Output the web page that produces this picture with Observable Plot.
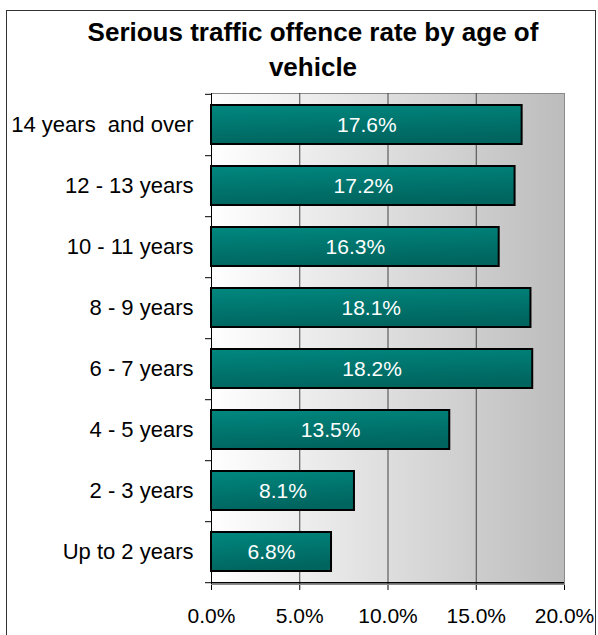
<!DOCTYPE html>
<html>
<head>
<meta charset="utf-8">
<script src="https://cdn.jsdelivr.net/npm/d3@7"></script>
<script src="https://cdn.jsdelivr.net/npm/@observablehq/plot@0.6"></script>
<style>
  html, body { margin: 0; padding: 0; background: #fff; overflow: hidden; width: 598px; height: 635px; }
  body { position: relative; font-family: Arial, "Liberation Sans", sans-serif; }
  #border { position: absolute; left: 6px; top: 10px; width: 590px; height: 700px; border: 1px solid #333; box-sizing: border-box; pointer-events: none; }
  #title { box-sizing: border-box; width: 598px; padding-left: 28px; margin-top: 15px; height: 70px; text-align: center; font-weight: bold; font-size: 26px; line-height: 35px; color: #000; }
  #chart svg { display: block; }
</style>
</head>
<body>
<div id="border"></div>
<div id="title">Serious traffic offence rate by age of<br>vehicle</div>
<div id="chart"></div>
<script>
const categories = ["14 years \u00a0and over", "12 - 13 years", "10 - 11 years", "8 - 9 years", "6 - 7 years", "4 - 5 years", "2 - 3 years", "Up to 2 years"];
const rates = [0.176, 0.172, 0.163, 0.181, 0.182, 0.135, 0.081, 0.068];
const xTicks = [0, 0.05, 0.10, 0.15, 0.20];
const gridValues = [0.05, 0.10, 0.15];

const data = categories.map((c, i) => ({category: c, rate: rates[i]}));

const W = 598, H = 550, mt = 8, mb = 51, ml = 211, mr = 34;
const step = (H - mt - mb) / categories.length;
const tickLen = 6 * 0.2 / (W - ml - mr);

const chart = Plot.plot({
  width: W,
  height: H,
  marginTop: mt,
  marginBottom: mb,
  marginLeft: ml,
  marginRight: mr,
  style: {fontSize: "21px", fontFamily: "Arial, 'Liberation Sans', sans-serif", color: "#000", background: "transparent"},
  x: {domain: [0, 0.2], ticks: xTicks, tickFormat: d3.format(".1%"), tickSize: 6, tickPadding: 18, label: null},
  y: {domain: categories, paddingInner: 0.36, paddingOuter: 0.18, tickSize: 0, tickPadding: 18, label: null},
  marks: [
    Plot.frame({fill: "#ddd", stroke: "#8a8a8a"}),
    Plot.ruleX(gridValues, {stroke: "#444", strokeWidth: 1}),
    Plot.barX(data, {y: "category", x: "rate", fill: "#007a74", stroke: "#000", strokeWidth: 2}),
    Plot.text(data, {y: "category", x: d => d.rate / 2, text: d => d3.format(".1%")(d.rate), fill: "#fff", fontSize: 21}),
    Plot.ruleX([0], {stroke: "#000", strokeWidth: 1}),
    Plot.ruleY(categories, {y: d => d, dy: step / 2, x1: -tickLen, x2: 0, stroke: "#000"}),
    Plot.ruleY([categories[0]], {y: d => d, dy: -step / 2, x1: -tickLen, x2: 0, stroke: "#000"}),
    Plot.ruleY([categories[categories.length - 1]], {y: d => d, dy: step / 2, x1: 0, x2: 0.2, stroke: "#000", strokeWidth: 1.5})
  ]
});

// gradients
const svg = d3.select(chart);
const defs = svg.insert("defs", ":first-child");
const bg = defs.append("linearGradient").attr("id", "bgGrad").attr("x1", 0).attr("y1", 0).attr("x2", 1).attr("y2", 0);
bg.append("stop").attr("offset", 0).attr("stop-color", "#ffffff");
bg.append("stop").attr("offset", 1).attr("stop-color", "#bcbcbc");
const bar = defs.append("linearGradient").attr("id", "barGrad").attr("x1", 0).attr("y1", 0).attr("x2", 0.25).attr("y2", 1);
bar.append("stop").attr("offset", 0).attr("stop-color", "#00887f");
bar.append("stop").attr("offset", 1).attr("stop-color", "#00655f");
svg.selectAll('g[aria-label="frame"] rect, rect[aria-label="frame"]').attr("fill", "url(#bgGrad)");
svg.selectAll('g[aria-label="bar"] rect').attr("fill", "url(#barGrad)");
svg.selectAll('g[aria-label^="y-axis"] text').style("font-size", "22px");

document.getElementById("chart").appendChild(chart);
</script>
</body>
</html>
